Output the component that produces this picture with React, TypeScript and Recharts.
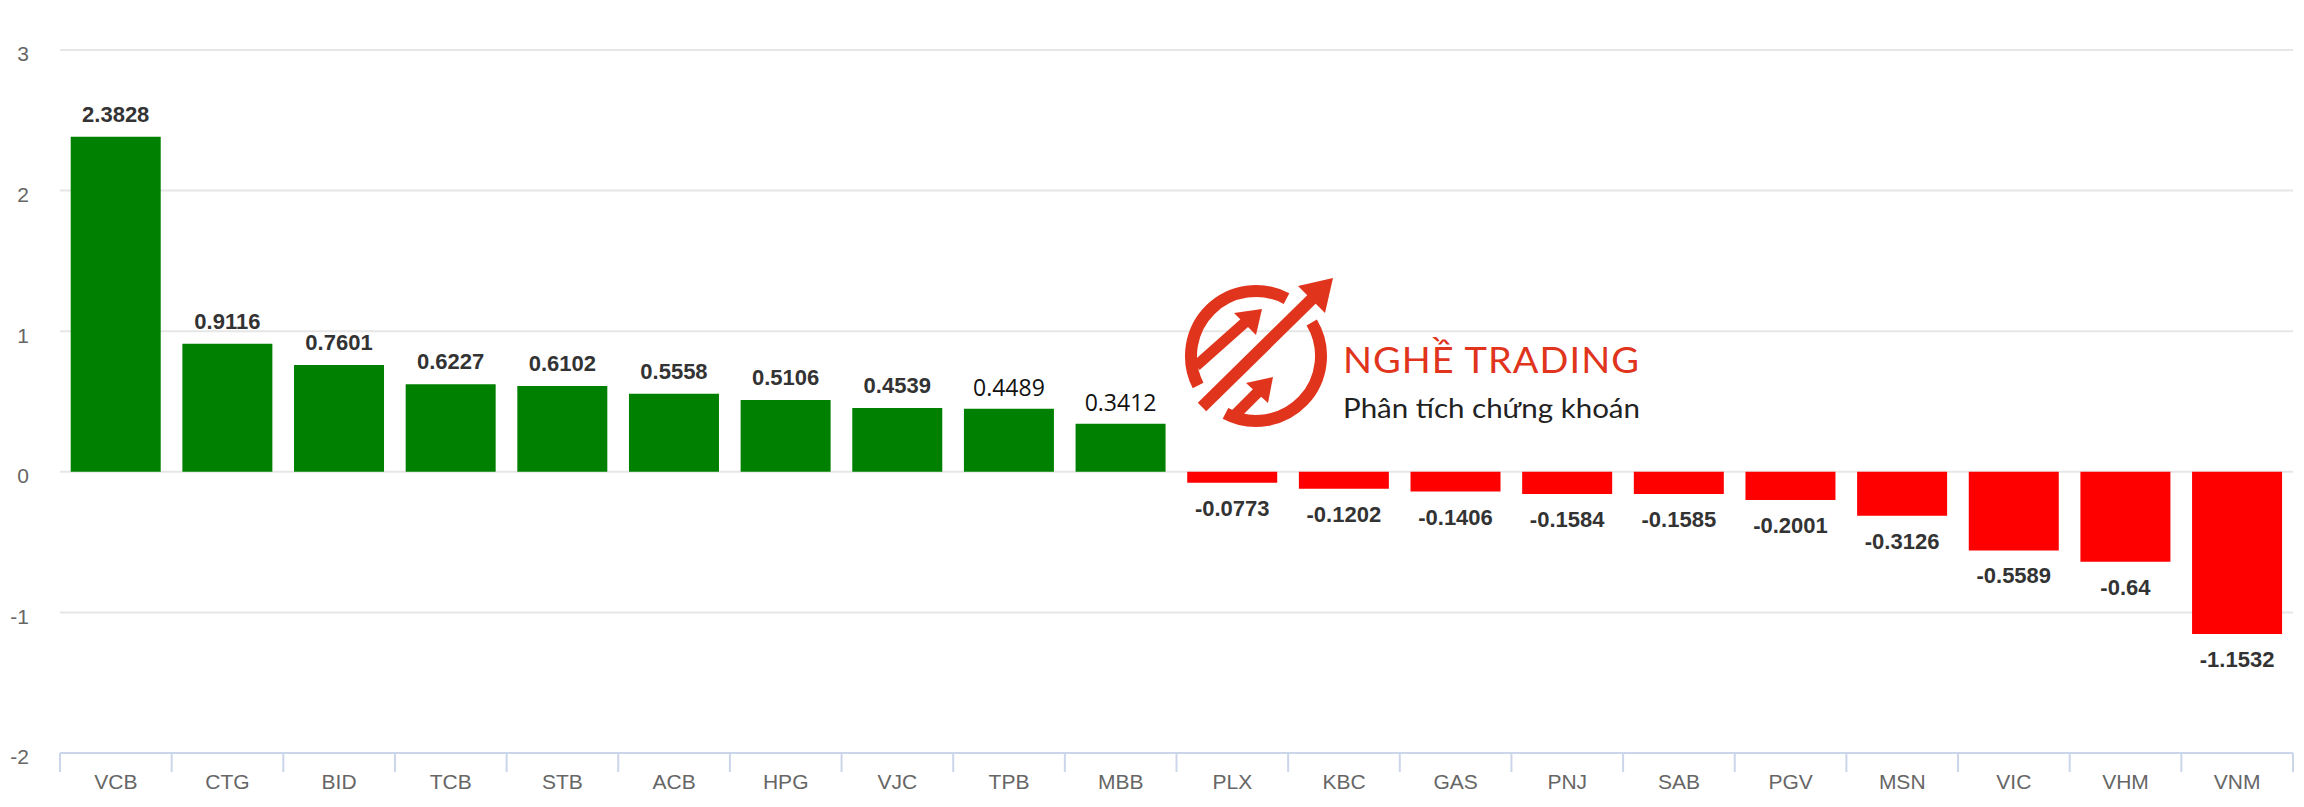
import React from 'react';
import {
  BarChart,
  Bar,
  XAxis,
  YAxis,
  CartesianGrid,
  Cell,
  LabelList,
} from 'recharts';

const tickers = ['VCB', 'CTG', 'BID', 'TCB', 'STB', 'ACB', 'HPG', 'VJC', 'TPB', 'MBB', 'PLX', 'KBC', 'GAS', 'PNJ', 'SAB', 'PGV', 'MSN', 'VIC', 'VHM', 'VNM'];
const impact = [2.3828, 0.9116, 0.7601, 0.6227, 0.6102, 0.5558, 0.5106, 0.4539, 0.4489, 0.3412, -0.0773, -0.1202, -0.1406, -0.1584, -0.1585, -0.2001, -0.3126, -0.5589, -0.64, -1.1532];
const yTicks = [-2, -1, 0, 1, 2, 3];

const W = 2304;
const H = 807;
const FONT = '"Liberation Sans", Arial, Helvetica, sans-serif';
const UP = '#008000';
const DOWN = '#ff0000';
const AXIS_BLUE = '#ccd6eb';

// labels that sit under the logo overlay are drawn in a plain font
const plainLabels = ['TPB', 'MBB'];

const chartData = tickers.map((name, i) => ({ name, value: impact[i] }));

const XTick = (props: any) => {
  const { x, y, payload, index, visibleTicksCount, width } = props;
  const half = payload && payload.offset ? payload.offset : width / visibleTicksCount / 2;
  const last = index === visibleTicksCount - 1;
  return (
    <g>
      <line x1={x - half} x2={x - half} y1={y} y2={y + 19} stroke={AXIS_BLUE} strokeWidth={2} />
      {last && <line x1={x + half} x2={x + half} y1={y} y2={y + 19} stroke={AXIS_BLUE} strokeWidth={2} />}
      <text x={x} y={y + 36} textAnchor="middle" fill="#666" fontSize={21} fontFamily={FONT}>
        {payload.value}
      </text>
    </g>
  );
};

const renderLabel = (props: any) => {
  const { x, y, width, height, value, index } = props;
  const top = Math.min(y, y + height);
  const bottom = Math.max(y, y + height);
  const cx = x + width / 2;
  const plain = plainLabels.includes(tickers[index]);
  if (value >= 0) {
    return (
      <text
        x={cx}
        y={top - (plain ? 13 : 15)}
        textAnchor="middle"
        fill={plain ? '#111' : '#333'}
        fontSize={plain ? 23 : 22}
        fontWeight={plain ? 400 : 700}
        fontFamily={plain ? '"Open Sans", sans-serif' : FONT}
      >
        {String(value)}
      </text>
    );
  }
  return (
    <text x={cx} y={bottom + 33} textAnchor="middle" fill="#333" fontSize={22} fontWeight={700} fontFamily={FONT}>
      {String(value)}
    </text>
  );
};

const Logo = () => {
  const cx = 1256;
  const cy = 356;
  const r = 65;
  const pt = (deg: number) => {
    const a = (deg * Math.PI) / 180;
    return [cx + r * Math.cos(a), cy + r * Math.sin(a)];
  };
  const [a1x, a1y] = pt(-62);
  const [b1x, b1y] = pt(153);
  const [a2x, a2y] = pt(-31);
  const [b2x, b2y] = pt(118);
  const red = '#e0341c';
  return (
    <svg width={W} height={H} style={{ position: 'absolute', left: 0, top: 0, pointerEvents: 'none' }}>
      <path d={`M ${a1x} ${a1y} A ${r} ${r} 0 0 0 ${b1x} ${b1y}`} fill="none" stroke={red} strokeWidth={12} />
      <path d={`M ${a2x} ${a2y} A ${r} ${r} 0 0 1 ${b2x} ${b2y}`} fill="none" stroke={red} strokeWidth={12} />
      {/* main arrow */}
      <line x1={1202} y1={407} x2={1316} y2={295} stroke={red} strokeWidth={12} />
      <polygon points="1333,278 1325,313 1298,286" fill={red} />
      {/* upper small arrow */}
      <line x1={1196} y1={366} x2={1250} y2={318} stroke={red} strokeWidth={11} />
      <polygon points="1262,309 1256,335 1234,313" fill={red} />
      {/* lower small arrow */}
      <line x1={1232} y1={418} x2={1262} y2={388} stroke={red} strokeWidth={11} />
      <polygon points="1273,377 1268,403 1246,383" fill={red} />
      <text x={1343} y={373} fontSize={36} fill={red} fontFamily='Lato, "Noto Sans", sans-serif' textLength={297} lengthAdjust="spacingAndGlyphs" letterSpacing={1}>
        NGHỀ TRADING
      </text>
      <text x={1343} y={418} fontSize={27} fill="#222" fontFamily='Lato, "Noto Sans", sans-serif' textLength={297} lengthAdjust="spacingAndGlyphs">
        Phân tích chứng khoán
      </text>
    </svg>
  );
};

export default function App() {
  return (
    <div style={{ position: 'absolute', left: 0, top: 0, width: W, height: H, background: '#fff' }}>
      <BarChart width={W} height={H} data={chartData} margin={{ top: 50, right: 11, left: 0, bottom: 0 }} barCategoryGap="9.6%">
        <CartesianGrid vertical={false} stroke="#e6e6e6" strokeWidth={2} />
        <XAxis
          dataKey="name"
          height={54}
          interval={0}
          tickSize={0}
          tickMargin={0}
          tickLine={false}
          axisLine={{ stroke: AXIS_BLUE, strokeWidth: 2 }}
          tick={<XTick />}
        />
        <YAxis
          width={60}
          domain={[-2, 3]}
          ticks={yTicks}
          axisLine={false}
          tickLine={false}
          tickSize={0}
          tickMargin={31}
          tick={{ fill: '#666', fontSize: 21, fontFamily: FONT, dy: 4 }}
        />
        <Bar dataKey="value" isAnimationActive={false}>
          {chartData.map((d) => (
            <Cell key={d.name} fill={d.value >= 0 ? UP : DOWN} />
          ))}
          <LabelList dataKey="value" content={renderLabel} />
        </Bar>
      </BarChart>
      <Logo />
    </div>
  );
}
